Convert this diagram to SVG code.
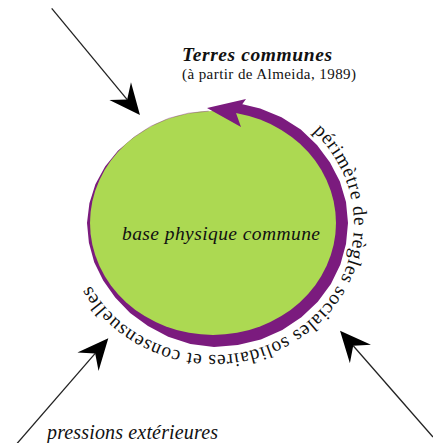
<svg xmlns="http://www.w3.org/2000/svg" width="433" height="443" viewBox="0 0 433 443">
<defs>
<style>
text{font-family:'Liberation Serif','Times New Roman',serif;fill:#111}
.it{font-style:italic}
.purple{fill:#7b1b7e}
.conn{stroke:#222;stroke-width:1.3;fill:none;marker-end:url(#ah)}
</style>
<marker id="ah" viewBox="-12 -15 33 30" refX="0" refY="0" markerWidth="33" markerHeight="30" markerUnits="userSpaceOnUse" orient="auto"><path d="M20,0 L-11,-14 L0,0 L-11,14 Z" fill="#000"/></marker>
<path id="rim" d="M 313,131.4 A 140 131 0 1 1 76.1,246.7"/>
</defs>
<rect width="433" height="443" fill="#fff"/>
<g id="title">
<text class="it" x="182" y="61" font-size="19.5" font-weight="bold" textLength="150">Terres communes</text>
<text x="182" y="79" font-size="15" textLength="174">(à partir de Almeida, 1989)</text>
</g>
<g id="base">
<path class="purple" d="M237.4,102.9 L260.2,108.4 L281.5,117.3 L300.8,129.5 L317.0,144.9 L330.0,162.5 L339.9,181.6 L346.0,202.0 L348,223 L346.0,244.0 L340.4,264.6 L330.9,284 L317.8,301.7 L301.4,317.2 L282.3,330.0 L260.9,339.5 L237.8,345.1 L214,347 L190.4,344.1 L168.2,336.7 L148,326.1 L130.1,313.0 L115.2,297.6 L103.2,280.5 L94.2,262.2 L88.9,242.8 L87,223 L89.4,203.3 L95.4,184.3 L105.1,166.6 L117.9,150.7 L133.65,137.2 L213,223 Z"/>
<ellipse cx="213" cy="223" rx="123" ry="112" fill="#acd952"/>
<path d="M133.9,137.2 A123 112 0 0 1 208.7,111.1" fill="none" stroke="#7b1b7e" stroke-width="1" opacity="0.4"/>
<polygon class="purple" points="207,108 246,99 236,113 241,127"/>
<text class="it" x="122" y="240" font-size="19.5" textLength="198">base physique commune</text>
</g>
<g id="perimeter">
<text font-size="19.5" letter-spacing="0.7"><textPath href="#rim">périmètre de règles sociales solidaires et consensuelles</textPath></text>
</g>
<g id="pressions">
<text class="it" x="47" y="439" font-size="20" textLength="171">pressions extérieures</text>
</g>
<g id="connectors">
<path class="conn" d="M51.7,8.3 L127.2,99.6"/>
<path class="conn" d="M14,447 L95.2,353.4"/>
<path class="conn" d="M433,437 L353.2,345.7"/>
</g>
</svg>
